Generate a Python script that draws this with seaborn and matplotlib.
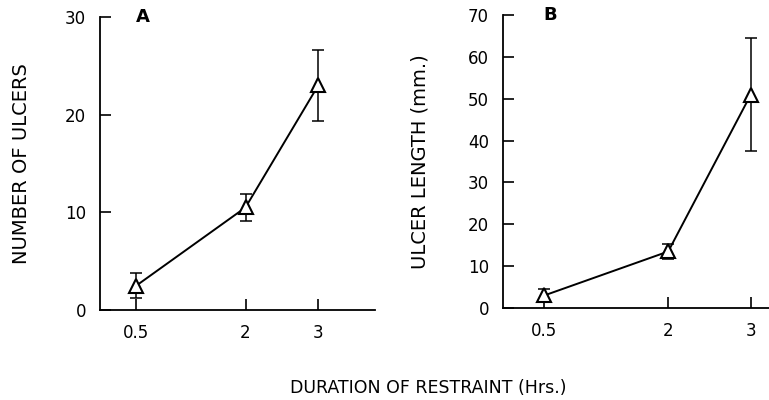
import numpy as np
import pandas as pd
import seaborn as sns
from matplotlib import pyplot as plt

# restraint duration (hrs)
hours = [0.5, 2, 3]

# panel A: number of ulcers
ulcer_count = [2.5, 10.5, 23.0]
ulcer_count_err = [1.25, 1.35, 3.6]

# panel B: ulcer length (mm)
ulcer_length = [3.0, 13.5, 51.0]
ulcer_length_err = [1.5, 1.8, 13.5]

sns.set_style("ticks")
plt.rcParams['font.family'] = ['DejaVu Sans']
plt.rcParams['text.color'] = 'black'
plt.rcParams['axes.labelcolor'] = 'black'

fig = plt.figure(figsize=(7.69, 4.0), dpi=100)
ax_a = fig.add_axes([100 / 769, 1 - 310 / 400, 275 / 769, 293 / 400])
ax_b = fig.add_axes([503 / 769, 1 - 308 / 400, 266 / 769, 293 / 400])


def draw_panel(ax, y, err, ylim, yticks, ylabel, letter, letter_x, xlim, label_x):
    df = pd.DataFrame({"hours": hours, "value": y})
    ax.errorbar(hours, y, yerr=err, fmt="none", ecolor="black",
                elinewidth=1.1, capsize=4.5, capthick=1.1, zorder=2)
    sns.lineplot(data=df, x="hours", y="value", ax=ax, color="black",
                 linewidth=1.4, marker="^", markersize=10,
                 markerfacecolor="white", markeredgecolor="black",
                 markeredgewidth=1.5, zorder=3)
    ax.set_xlim(*xlim)
    ax.set_ylim(*ylim)
    ax.set_xticks(hours)
    ax.set_xticklabels(["0.5", "2", "3"])
    ax.set_yticks(yticks)
    ax.tick_params(direction="in", length=8, width=1.2, labelsize=12,
                   color="black", labelcolor="black", pad=10)
    for side in ["top", "right"]:
        ax.spines[side].set_visible(False)
    for side in ["left", "bottom"]:
        ax.spines[side].set_linewidth(1.3)
        ax.spines[side].set_color("black")
    ax.set_xlabel("")
    ax.set_ylabel(ylabel, fontsize=14, color="black")
    ax.yaxis.label.set_va("center")
    ax.yaxis.set_label_coords(label_x, 0.5)
    ax.text(letter_x, 1.0, letter, transform=ax.transAxes, fontsize=13,
            fontweight="bold", ha="center", va="center", color="black")


draw_panel(ax_a, ulcer_count, ulcer_count_err, (0, 30), [0, 10, 20, 30],
           "NUMBER OF ULCERS", "A", 0.156, (0, 3.78), -0.284)
draw_panel(ax_b, ulcer_length, ulcer_length_err, (0, 70),
           [0, 10, 20, 30, 40, 50, 60, 70],
           "ULCER LENGTH (mm.)", "B", 0.177, (0, 3.22), -0.312)

fig.text(428 / 769, 1 - 388 / 400, "DURATION OF RESTRAINT (Hrs.)",
         fontsize=12.5, ha="center", va="center", color="black")

fig.savefig("out.png", dpi=100)
